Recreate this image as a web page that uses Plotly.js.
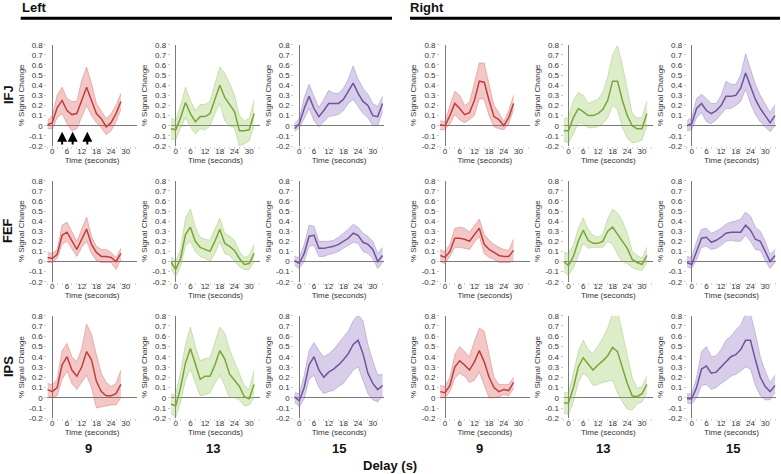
<!DOCTYPE html>
<html><head><meta charset="utf-8">
<script src="https://cdn.plot.ly/plotly-3.0.1.min.js"></script>
<style>html,body{margin:0;padding:0;background:#fff;}#chart{width:781px;height:474px;}</style>
</head><body><div id="chart"></div>
<script>
// ---------- DATA ----------
const time9  = [-2,0,2,4,6,8,10,12,14,16,18,20,22,24,26,28];
const time13 = [-2,0,2,4,6,8,10,12,14,16,18,20,22,24,26,28,30,32];
const time15 = [-2,0,2,4,6,8,10,12,14,16,18,20,22,24,26,28,30,32,34];

const regions = ['IFJ','FEF','IPS'];
const sides = ['Left','Right'];
const delays = ['9','13','15'];
const xTickVals = [0,6,12,18,24,30];
const xTickText = ['0','6','12','18','24','30'];
const xMinorTickVals = [-2,2,4,8,10,14,16,20,22,26,28,32,34];
const yTickVals = [-0.2,-0.1,0,0.1,0.2,0.3,0.4,0.5,0.6,0.7,0.8];
const yTickText = ['-0.2','-0.1','0','0.1','0.2','0.3','0.4','0.5','0.6','0.7','0.8'];
const arrowTimes = [4, 8.3, 14.3];

// IFJ
const IFJ_L9_mean  = [0.01,0.03,0.18,0.25,0.15,0.11,0.12,0.25,0.38,0.25,0.12,0.07,-0.01,0.03,0.12,0.24];
const IFJ_L9_upper = [0.05,0.10,0.30,0.38,0.27,0.24,0.24,0.45,0.58,0.42,0.22,0.15,0.07,0.12,0.20,0.32];
const IFJ_L9_lower = [-0.03,-0.03,0.08,0.12,0.02,-0.05,-0.03,0.08,0.20,0.10,0.03,-0.02,-0.09,-0.05,0.04,0.16];
const IFJ_L13_mean  = [-0.03,-0.04,0.08,0.23,0.12,0.04,0.09,0.09,0.12,0.27,0.40,0.28,0.21,0.14,-0.05,-0.05,-0.04,0.12];
const IFJ_L13_upper = [0.08,0.05,0.20,0.38,0.25,0.15,0.21,0.21,0.24,0.42,0.58,0.52,0.42,0.30,0.10,0.05,0.07,0.25];
const IFJ_L13_lower = [-0.13,-0.14,-0.02,0.08,-0.01,-0.08,-0.03,-0.04,0.00,0.12,0.22,0.05,0.00,-0.02,-0.20,-0.18,-0.15,0.00];
const IFJ_L15_mean  = [-0.03,0.02,0.17,0.29,0.17,0.09,0.15,0.22,0.22,0.22,0.26,0.34,0.42,0.32,0.24,0.20,0.10,0.09,0.22];
const IFJ_L15_upper = [0.02,0.07,0.28,0.41,0.29,0.18,0.26,0.35,0.32,0.32,0.37,0.46,0.59,0.46,0.37,0.31,0.22,0.19,0.29];
const IFJ_L15_lower = [-0.06,-0.02,0.07,0.17,0.05,-0.01,0.04,0.09,0.10,0.11,0.15,0.22,0.26,0.19,0.12,0.08,0.00,0.00,0.14];
const IFJ_R9_mean  = [0.01,0.00,0.10,0.22,0.17,0.11,0.13,0.25,0.44,0.43,0.25,0.09,0.06,0.00,0.08,0.22];
const IFJ_R9_upper = [0.05,0.04,0.20,0.34,0.30,0.20,0.23,0.42,0.62,0.62,0.40,0.20,0.13,0.04,0.15,0.30];
const IFJ_R9_lower = [-0.04,-0.04,0.02,0.11,0.06,0.03,0.06,0.10,0.27,0.26,0.10,-0.01,-0.03,-0.04,0.02,0.16];
const IFJ_R13_mean  = [-0.05,-0.05,0.08,0.17,0.14,0.10,0.10,0.12,0.16,0.25,0.44,0.44,0.25,0.10,0.00,-0.03,-0.03,0.12];
const IFJ_R13_upper = [0.07,0.08,0.25,0.33,0.30,0.22,0.24,0.26,0.33,0.48,0.70,0.79,0.60,0.35,0.12,0.08,0.08,0.24];
const IFJ_R13_lower = [-0.15,-0.17,-0.08,0.03,0.02,-0.02,-0.02,-0.01,0.02,0.08,0.20,0.16,-0.02,-0.12,-0.17,-0.16,-0.14,0.00];
const IFJ_R15_mean  = [0.00,0.02,0.17,0.22,0.15,0.12,0.15,0.20,0.29,0.29,0.30,0.37,0.52,0.38,0.26,0.17,0.10,0.03,0.10];
const IFJ_R15_upper = [0.05,0.08,0.27,0.31,0.27,0.22,0.22,0.30,0.44,0.41,0.41,0.50,0.71,0.57,0.41,0.30,0.21,0.13,0.21];
const IFJ_R15_lower = [-0.05,-0.04,0.08,0.13,0.04,0.02,0.06,0.12,0.17,0.17,0.20,0.24,0.36,0.22,0.11,0.04,-0.01,-0.06,0.00];
// FEF
const FEF_L9_mean  = [0.04,0.03,0.07,0.26,0.29,0.20,0.12,0.22,0.32,0.17,0.09,0.05,0.05,0.04,0.00,0.08];
const FEF_L9_upper = [0.09,0.08,0.12,0.36,0.39,0.30,0.20,0.32,0.44,0.25,0.15,0.12,0.12,0.09,0.04,0.13];
const FEF_L9_lower = [-0.01,-0.01,0.03,0.17,0.20,0.12,0.05,0.14,0.20,0.08,0.01,-0.01,-0.01,-0.01,-0.08,0.02];
const FEF_L13_mean  = [0.00,-0.08,0.03,0.27,0.34,0.20,0.14,0.12,0.10,0.20,0.32,0.18,0.15,0.11,0.03,-0.03,-0.02,0.08];
const FEF_L13_upper = [0.05,0.00,0.12,0.43,0.52,0.34,0.24,0.22,0.21,0.32,0.43,0.28,0.25,0.21,0.10,0.04,0.06,0.17];
const FEF_L13_lower = [-0.07,-0.15,-0.05,0.16,0.20,0.10,0.05,0.03,0.00,0.08,0.20,0.08,0.06,0.00,-0.05,-0.08,-0.08,0.00];
const FEF_L15_mean  = [0.01,-0.02,0.08,0.25,0.26,0.13,0.13,0.14,0.15,0.17,0.20,0.23,0.28,0.26,0.19,0.17,0.12,0.00,0.06];
const FEF_L15_upper = [0.05,0.04,0.17,0.36,0.35,0.20,0.20,0.20,0.21,0.24,0.28,0.32,0.37,0.34,0.28,0.25,0.20,0.08,0.14];
const FEF_L15_lower = [-0.04,-0.07,0.00,0.15,0.16,0.05,0.05,0.07,0.08,0.10,0.13,0.16,0.19,0.18,0.10,0.08,0.03,-0.07,-0.01];
const FEF_R9_mean  = [0.06,0.04,0.10,0.23,0.23,0.22,0.20,0.27,0.33,0.17,0.12,0.09,0.06,0.05,0.05,0.11];
const FEF_R9_upper = [0.12,0.10,0.17,0.33,0.34,0.33,0.29,0.36,0.42,0.27,0.21,0.17,0.14,0.12,0.11,0.22];
const FEF_R9_lower = [0.00,-0.02,0.05,0.14,0.14,0.13,0.12,0.19,0.25,0.08,0.04,0.02,-0.01,-0.01,-0.01,0.00];
const FEF_R13_mean  = [0.00,-0.04,0.05,0.20,0.31,0.21,0.18,0.18,0.20,0.30,0.34,0.27,0.20,0.13,0.02,-0.01,-0.03,0.06];
const FEF_R13_upper = [0.09,0.08,0.16,0.33,0.43,0.32,0.26,0.24,0.27,0.42,0.52,0.48,0.40,0.28,0.10,0.06,0.03,0.14];
const FEF_R13_lower = [-0.10,-0.14,-0.06,0.07,0.18,0.13,0.14,0.14,0.14,0.20,0.17,0.07,0.00,-0.02,-0.06,-0.08,-0.09,-0.01];
const FEF_R15_mean  = [-0.01,-0.03,0.10,0.23,0.24,0.19,0.21,0.24,0.28,0.29,0.29,0.29,0.36,0.31,0.22,0.20,0.10,0.00,0.06];
const FEF_R15_upper = [0.05,0.04,0.20,0.32,0.33,0.28,0.30,0.33,0.37,0.39,0.40,0.42,0.49,0.45,0.34,0.30,0.20,0.07,0.12];
const FEF_R15_lower = [-0.05,-0.07,0.02,0.14,0.15,0.12,0.13,0.16,0.20,0.21,0.20,0.20,0.26,0.20,0.12,0.11,0.01,-0.07,-0.01];
// IPS
const IPS_L9_mean  = [0.08,0.06,0.10,0.32,0.40,0.27,0.21,0.30,0.45,0.37,0.16,0.06,0.02,0.02,0.04,0.13];
const IPS_L9_upper = [0.14,0.13,0.18,0.46,0.53,0.40,0.35,0.48,0.72,0.62,0.42,0.24,0.15,0.11,0.14,0.27];
const IPS_L9_lower = [0.02,0.00,0.02,0.18,0.26,0.14,0.08,0.15,0.22,0.10,-0.10,-0.09,-0.08,-0.07,-0.07,0.00];
const IPS_L13_mean  = [-0.06,-0.08,0.10,0.34,0.48,0.32,0.18,0.21,0.21,0.32,0.46,0.38,0.23,0.17,0.11,0.01,-0.01,0.13];
const IPS_L13_upper = [0.03,0.03,0.25,0.52,0.69,0.50,0.36,0.38,0.39,0.53,0.69,0.63,0.47,0.35,0.24,0.12,0.08,0.27];
const IPS_L13_lower = [-0.15,-0.19,-0.04,0.17,0.28,0.14,0.02,0.03,0.05,0.14,0.22,0.12,0.00,0.00,-0.02,-0.08,-0.07,0.00];
const IPS_L15_mean  = [0.01,-0.03,0.10,0.32,0.40,0.27,0.20,0.25,0.28,0.32,0.37,0.43,0.52,0.56,0.43,0.24,0.14,0.08,0.12];
const IPS_L15_upper = [0.05,0.04,0.22,0.46,0.54,0.46,0.40,0.43,0.47,0.53,0.60,0.65,0.75,0.81,0.75,0.52,0.36,0.22,0.23];
const IPS_L15_lower = [-0.04,-0.09,-0.01,0.18,0.22,0.10,0.04,0.06,0.07,0.11,0.14,0.20,0.27,0.30,0.16,0.04,-0.02,-0.04,0.02];
const IPS_R9_mean  = [0.06,0.05,0.12,0.30,0.36,0.32,0.27,0.35,0.46,0.35,0.20,0.10,0.06,0.08,0.07,0.15];
const IPS_R9_upper = [0.12,0.11,0.20,0.42,0.50,0.45,0.40,0.55,0.68,0.65,0.41,0.20,0.13,0.13,0.13,0.20];
const IPS_R9_lower = [0.00,0.00,0.06,0.19,0.24,0.21,0.15,0.17,0.25,0.12,0.00,0.00,0.01,0.03,0.02,0.09];
const IPS_R13_mean  = [-0.05,-0.05,0.10,0.30,0.39,0.33,0.27,0.32,0.36,0.41,0.49,0.45,0.30,0.14,0.02,0.01,0.04,0.13];
const IPS_R13_upper = [0.05,0.05,0.24,0.45,0.56,0.47,0.43,0.50,0.58,0.68,0.82,0.85,0.63,0.40,0.20,0.09,0.11,0.21];
const IPS_R13_lower = [-0.15,-0.16,-0.04,0.15,0.24,0.20,0.12,0.13,0.15,0.16,0.17,0.05,-0.04,-0.11,-0.12,-0.06,-0.04,0.05];
const IPS_R15_mean  = [-0.01,-0.01,0.10,0.28,0.31,0.24,0.25,0.30,0.35,0.40,0.42,0.47,0.56,0.56,0.37,0.20,0.11,0.06,0.12];
const IPS_R15_upper = [0.04,0.04,0.20,0.45,0.50,0.40,0.41,0.47,0.56,0.60,0.66,0.71,0.82,0.82,0.63,0.40,0.26,0.15,0.22];
const IPS_R15_lower = [-0.05,-0.06,0.00,0.12,0.13,0.08,0.10,0.14,0.17,0.21,0.23,0.26,0.30,0.28,0.12,0.02,-0.02,-0.02,0.05];

// ---------- BUILD ----------
const DATA = {
  IFJ_L9:[IFJ_L9_mean,IFJ_L9_upper,IFJ_L9_lower], IFJ_L13:[IFJ_L13_mean,IFJ_L13_upper,IFJ_L13_lower], IFJ_L15:[IFJ_L15_mean,IFJ_L15_upper,IFJ_L15_lower],
  IFJ_R9:[IFJ_R9_mean,IFJ_R9_upper,IFJ_R9_lower], IFJ_R13:[IFJ_R13_mean,IFJ_R13_upper,IFJ_R13_lower], IFJ_R15:[IFJ_R15_mean,IFJ_R15_upper,IFJ_R15_lower],
  FEF_L9:[FEF_L9_mean,FEF_L9_upper,FEF_L9_lower], FEF_L13:[FEF_L13_mean,FEF_L13_upper,FEF_L13_lower], FEF_L15:[FEF_L15_mean,FEF_L15_upper,FEF_L15_lower],
  FEF_R9:[FEF_R9_mean,FEF_R9_upper,FEF_R9_lower], FEF_R13:[FEF_R13_mean,FEF_R13_upper,FEF_R13_lower], FEF_R15:[FEF_R15_mean,FEF_R15_upper,FEF_R15_lower],
  IPS_L9:[IPS_L9_mean,IPS_L9_upper,IPS_L9_lower], IPS_L13:[IPS_L13_mean,IPS_L13_upper,IPS_L13_lower], IPS_L15:[IPS_L15_mean,IPS_L15_upper,IPS_L15_lower],
  IPS_R9:[IPS_R9_mean,IPS_R9_upper,IPS_R9_lower], IPS_R13:[IPS_R13_mean,IPS_R13_upper,IPS_R13_lower], IPS_R15:[IPS_R15_mean,IPS_R15_upper,IPS_R15_lower]
};
const TIMES = {'9':time9,'13':time13,'15':time15};
const STYLE = {
  '9':  {line:'rgb(192,62,62)',  fill:'rgba(222,80,80,0.32)',  edge:'rgba(200,70,70,0.55)'},
  '13': {line:'rgb(122,165,58)', fill:'rgba(150,200,90,0.32)', edge:'rgba(130,175,70,0.55)'},
  '15': {line:'rgb(112,84,156)', fill:'rgba(150,120,195,0.36)',edge:'rgba(120,95,170,0.55)'}
};

const W = 781, H = 474;
const FONT = 'Liberation Sans, Arial, Helvetica, sans-serif';
const colAxisPx = [52.3, 175.7, 299.3, 445, 568.5, 691.7];
const rowTopPx = [44.7, 180.7, 315.7];
const rowBotPx = [146, 281.7, 418.3];
const pxPerSec = 2.45;
const xr = [-2, 34.5];

const traces = [];
const layout = {
  width: W, height: H, margin:{l:0,r:0,t:0,b:0},
  paper_bgcolor:'#fff', plot_bgcolor:'rgba(0,0,0,0)',
  showlegend:false, font:{family:FONT, color:'#333'},
  annotations:[], shapes:[]
};

let idx = 0;
regions.forEach((reg, r) => {
  for (let c = 0; c < 6; c++) {
    idx++;
    const side = c < 3 ? 'L' : 'R';
    const d = delays[c % 3];
    const key = reg + '_' + side + d;
    const [mean, upper, lower] = DATA[key];
    const t = TIMES[d];
    const st = STYLE[d];
    const xa = idx === 1 ? 'x' : 'x' + idx;
    const ya = idx === 1 ? 'y' : 'y' + idx;
    traces.push({x:t, y:lower, xaxis:xa, yaxis:ya, type:'scatter', mode:'lines',
      line:{color:st.edge, width:0.6}, hoverinfo:'skip'});
    traces.push({x:t, y:upper, xaxis:xa, yaxis:ya, type:'scatter', mode:'lines',
      line:{color:st.edge, width:0.6}, fill:'tonexty', fillcolor:st.fill, hoverinfo:'skip'});
    traces.push({x:t, y:mean, xaxis:xa, yaxis:ya, type:'scatter', mode:'lines',
      line:{color:st.line, width:1.5}});

    const x0 = colAxisPx[c] + xr[0]*pxPerSec, x1 = colAxisPx[c] + xr[1]*pxPerSec;
    layout['xaxis' + (idx===1?'':idx)] = {
      domain:[x0/W, x1/W], range:xr, anchor:ya, automargin:false,
      tickmode:'array', tickvals:xTickVals, ticktext:xTickText,
      ticks:'outside', ticklen:2, tickcolor:'#cfcfcf', tickwidth:1, ticklabelstandoff:-5,
      minor:{tickmode:'array', tickvals:xMinorTickVals, ticks:'outside', ticklen:2, tickcolor:'#d4d4d4', showgrid:false},
      showline:false, showgrid:false, zeroline:true, zerolinecolor:'#7a7a7a', zerolinewidth:1,
      tickfont:{size:8, color:'#333', family:FONT},
      title:{text:'Time (seconds)', font:{size:8, color:'#333', family:FONT}, standoff:0}
    };
    layout['yaxis' + (idx===1?'':idx)] = {
      domain:[1 - rowBotPx[r]/H, 1 - rowTopPx[r]/H], range:[-0.2, 0.8], anchor:xa, automargin:false,
      tickmode:'array', tickvals:yTickVals, ticktext:yTickText,
      ticks:'outside', ticklen:2, tickcolor:'#c8c8c8', tickwidth:1,
      showline:false, showgrid:false, zeroline:true, zerolinecolor:'#7a7a7a', zerolinewidth:1,
      tickfont:{size:8, color:'#333', family:FONT},
      title:{text:'% Signal Change', font:{size:8, color:'#333', family:FONT}, standoff:3}
    };
  }
});

// arrows in the first panel
arrowTimes.forEach(tm => {
  layout.annotations.push({xref:'x', yref:'y', x:tm, y:-0.06, axref:'x', ayref:'y', ax:tm, ay:-0.2,
    text:'', showarrow:true, arrowhead:2, arrowsize:1, arrowwidth:2, arrowcolor:'#000'});
});

// row labels
const rowCenterPx = [95, 231, 367];
regions.forEach((reg, r) => {
  layout.annotations.push({xref:'paper', yref:'paper', x:8/W, y:1 - rowCenterPx[r]/H, text:'<b>'+reg+'</b>',
    showarrow:false, textangle:-90, font:{size:13, color:'#111', family:FONT}, xanchor:'center', yanchor:'middle'});
});
// column delay labels
const colLabelPx = [88, 213, 339, 480, 603, 733];
for (let c = 0; c < 6; c++) {
  layout.annotations.push({xref:'paper', yref:'paper', x:colLabelPx[c]/W, y:1 - 448/H, text:'<b>'+delays[c%3]+'</b>',
    showarrow:false, font:{size:13, color:'#111', family:FONT}, xanchor:'center', yanchor:'middle'});
}
layout.annotations.push({xref:'paper', yref:'paper', x:390/W, y:1 - 465/H, text:'<b>Delay (s)</b>',
  showarrow:false, font:{size:13, color:'#111', family:FONT}, xanchor:'center', yanchor:'middle'});
// side headers
layout.annotations.push({xref:'paper', yref:'paper', x:20/W, y:1 - 7/H, text:'<b>'+sides[0]+'</b>',
  showarrow:false, font:{size:13, color:'#111', family:FONT}, xanchor:'left', yanchor:'middle'});
layout.annotations.push({xref:'paper', yref:'paper', x:408/W, y:1 - 7/H, text:'<b>'+sides[1]+'</b>',
  showarrow:false, font:{size:13, color:'#111', family:FONT}, xanchor:'left', yanchor:'middle'});
layout.shapes.push({type:'line', xref:'paper', yref:'paper', x0:20.7/W, x1:392/W, y0:1-18.3/H, y1:1-18.3/H, line:{color:'#000', width:3}});
layout.shapes.push({type:'line', xref:'paper', yref:'paper', x0:410/W, x1:780/W, y0:1-18.3/H, y1:1-18.3/H, line:{color:'#000', width:3}});

Plotly.newPlot('chart', traces, layout, {staticPlot:true, displayModeBar:false});
</script>
</body></html>
